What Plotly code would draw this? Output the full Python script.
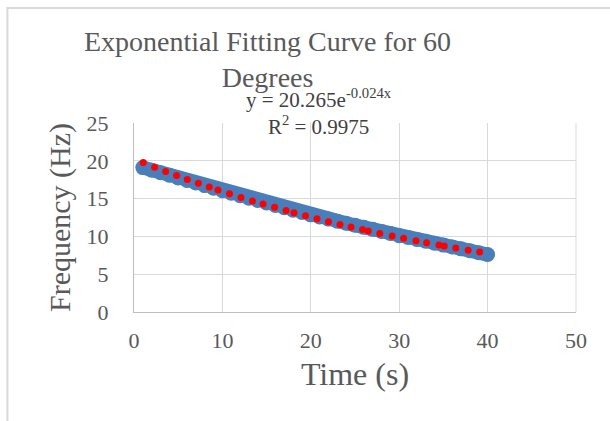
import plotly.graph_objects as go

# Measured data (blue band) - time (s) and frequency (Hz)
time_s = list(range(1, 41))
freq_hz = [19.10, 18.76, 18.42, 18.08, 17.74, 17.40, 17.06, 16.72, 16.38, 16.05,
           15.72, 15.39, 15.06, 14.74, 14.42, 14.10, 13.78, 13.47, 13.16, 12.85,
           12.57, 12.29, 12.01, 11.74, 11.47, 11.20, 10.93, 10.66, 10.38, 10.10,
           9.85, 9.60, 9.35, 9.10, 8.85, 8.60, 8.35, 8.10, 7.85, 7.60]

# Exponential trendline dots (red)
trend_x = [1.05, 2.33, 3.58, 4.82, 6.03, 7.28, 8.52, 9.5, 10.8, 12.1, 13.4, 14.6,
           15.9, 17.2, 18.1, 19.4, 20.7, 22.0, 23.3, 24.55, 25.85, 26.5, 27.8, 29.2,
           30.5, 31.9, 33.1, 34.5, 35.1, 36.4, 37.8, 39.1]
trend_y = [19.76, 19.16, 18.60, 18.05, 17.53, 17.02, 16.52, 16.13, 15.64, 15.16,
           14.69, 14.27, 13.84, 13.41, 13.12, 12.72, 12.33, 11.95, 11.59, 11.24,
           10.90, 10.73, 10.40, 10.06, 9.75, 9.42, 9.16, 8.85, 8.73, 8.46, 8.18, 7.93]

x_ticks = [0, 10, 20, 30, 40, 50]
y_ticks = [0, 5, 10, 15, 20, 25]

title_text = "Exponential Fitting Curve for 60<br>Degrees"
fit_text = "y = 20.265e<sup>-0.024x</sup><br>R<sup>2</sup> = 0.9975"

FONT = "Liberation Serif"
GRAY = "#595959"

fig = go.Figure()
fig.add_trace(go.Scatter(
    x=time_s, y=freq_hz, mode="lines+markers",
    line=dict(color="#4a7ebb", width=14),
    marker=dict(color="#4a7ebb", size=15),
    showlegend=False, hoverinfo="skip"))
fig.add_trace(go.Scatter(
    x=trend_x, y=trend_y, mode="markers",
    marker=dict(color="#ff0000", size=7),
    showlegend=False, hoverinfo="skip"))

fig.update_layout(
    width=610, height=421,
    margin=dict(l=134, r=34, t=123, b=109),
    paper_bgcolor="white", plot_bgcolor="white",
    font=dict(family=FONT, color=GRAY),
    xaxis=dict(range=[0, 50], tickvals=x_ticks, showgrid=True, gridcolor="#d9d9d9",
               gridwidth=1, zeroline=False, showline=True, linecolor="#bfbfbf",
               ticks="", tickfont=dict(size=22, color=GRAY), ticklabelstandoff=9,
               title=dict(text="Time (s)", font=dict(size=32, color=GRAY), standoff=10)),
    yaxis=dict(range=[0, 25], tickvals=y_ticks, showgrid=True, gridcolor="#d9d9d9",
               gridwidth=1, zeroline=False, showline=True, linecolor="#bfbfbf",
               ticks="", tickfont=dict(size=22, color=GRAY), ticklabelstandoff=20,
               title=dict(text="Frequency (Hz)", font=dict(size=30, color=GRAY), standoff=7)),
    shapes=[dict(type="line", xref="paper", yref="paper", x0=1, x1=1, y0=0, y1=1,
                 line=dict(color="#d9d9d9", width=1)),
            dict(type="rect", xref="paper", yref="paper", x0=-0.2864, x1=1.2,
                 y0=-1.0, y1=1.609, line=dict(color="#d9d9d9", width=2),
                 fillcolor="rgba(0,0,0,0)", layer="below")],
    annotations=[
        dict(text=title_text, xref="paper", yref="paper", x=0.3027, y=1.525,
             xanchor="center", yanchor="top", showarrow=False,
             font=dict(family=FONT, size=28, color=GRAY)),
        dict(text=fit_text, xref="paper", yref="paper", x=0.418, y=0.905,
             xanchor="center", yanchor="bottom", showarrow=False,
             font=dict(family=FONT, size=21, color="#404040")),
    ],
)

fig.write_html("out.html")
